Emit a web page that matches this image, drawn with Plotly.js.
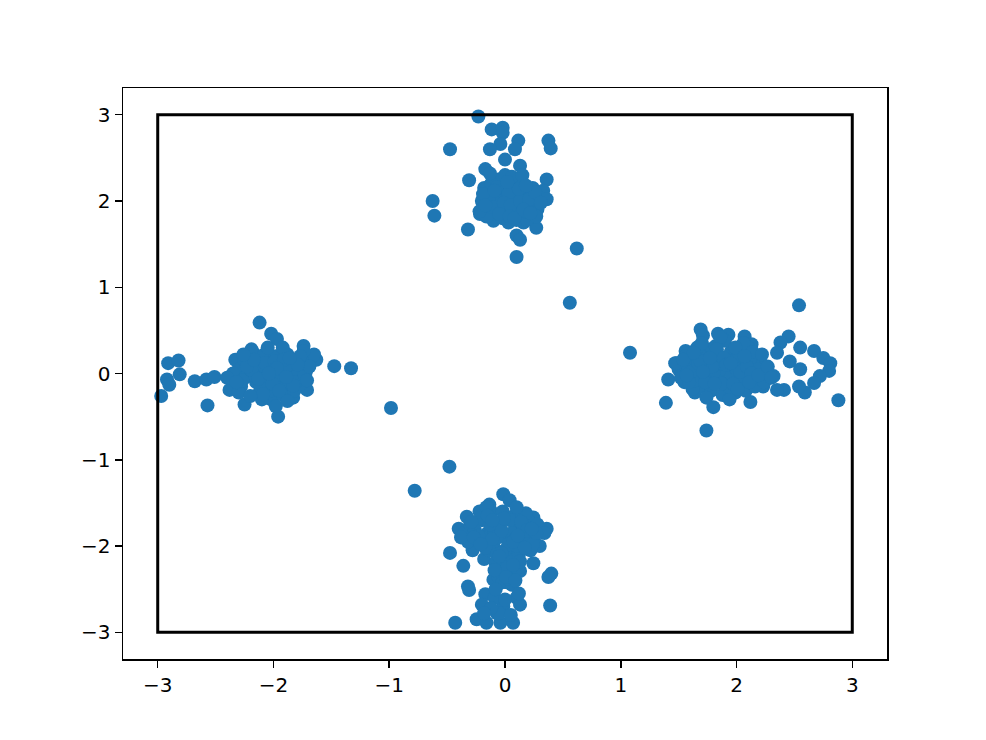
<!DOCTYPE html>
<html>
<head>
<meta charset="utf-8">
<script src="https://cdn.plot.ly/plotly-3.0.1.min.js"></script>
<style>html,body{margin:0;padding:0;background:#fff;}#chart{width:986px;height:740px;}</style>
</head>
<body>
<div id="chart"></div>
<script>
// Top cluster (around 0, 2)
const topX = [-0.23,-0.115,-0.02,-0.02,-0.04,-0.13,0.115,0.086,0.375,0.395,-0.475,0.0,0.13,-0.17,-0.31,0.36,-0.625,-0.61,-0.32,0.27,0.10,0.13,0.62,0.10,-0.216,-0.10,0.16,
  -0.18,-0.12,-0.08,-0.05,0.02,0.06,0.1,0.15,0.2,0.25,-0.15,-0.1,-0.02,0.04,0.08,0.12,0.18,0.22,0.3,-0.2,-0.06,0.0,0.05,0.1,0.14,-0.12,-0.03,0.07,0.16,0.28,
  0.33,0.36,-0.08,0.01,0.11,0.2,-0.16,-0.04,0.09,0.24,-0.22,0.0,0.13,0.06,-0.1,0.19,0.03,-0.13,0.27,0.15,
  -0.14,-0.07,0.03,0.09,0.17,0.23,0.29,-0.19,-0.11,-0.01,0.05,0.13,0.21,0.26,-0.05,0.04,0.12,0.18,-0.17,0.08,0.31,0.02,-0.09,0.16,0.22];
const topY = [2.98,2.83,2.85,2.79,2.66,2.60,2.70,2.60,2.70,2.61,2.60,2.48,2.41,2.37,2.24,2.25,2.00,1.83,1.67,1.69,1.60,1.55,1.45,1.35,1.85,1.77,1.75,
  2.15,2.05,1.95,2.1,2.0,1.9,2.05,1.95,2.1,2.0,1.9,1.85,1.8,2.2,2.15,1.85,1.82,1.9,2.08,2.0,2.25,2.3,2.12,1.78,2.22,2.2,1.95,1.98,2.05,1.9,
  2.12,2.02,2.08,2.05,1.92,1.95,1.82,2.0,2.02,2.15,1.88,1.88,2.1,2.28,2.0,1.78,1.75,2.32,1.82,2.3,
  2.0,2.16,2.08,1.86,1.88,2.05,1.98,2.08,1.93,1.98,1.95,2.0,2.02,2.1,1.85,1.82,2.14,2.18,1.95,1.8,1.98,2.22,2.12,1.9,1.86];

// Left cluster (around -2, 0)
const leftX = [-2.12,-2.02,-1.97,-2.91,-2.82,-2.81,-2.92,-2.90,-2.97,-2.68,-2.58,-2.51,-2.57,-2.38,-2.25,-1.96,-1.83,-1.71,-1.475,-1.33,-1.74,-1.63,-2.33,-2.19,
  -2.3,-2.25,-2.2,-2.15,-2.1,-2.05,-2.0,-1.95,-1.9,-1.85,-1.8,-1.75,-1.7,-2.28,-2.12,-2.02,-1.92,-1.82,-2.18,-2.08,-1.98,-1.88,-1.78,-1.68,-2.22,-2.06,
  -1.96,-1.86,-1.76,-2.14,-2.04,-1.94,-1.84,-2.35,-2.0,-1.9,-2.1,-1.98,-1.72,-2.25,-2.16,-2.03,-1.8,-1.65,-2.4,-2.3,-1.92,-2.05,-1.88,-1.74,
  -2.27,-2.19,-2.11,-2.07,-1.99,-1.93,-1.87,-1.81,-1.73,-1.69,-2.23,-2.13,-2.01,-1.91,-1.83,-1.77,-2.17,-2.09,-1.97,-1.89,-2.32,-2.26,-1.95,-2.04,-1.79,-1.71,-1.86,-2.2];
const leftY = [0.59,0.46,0.40,0.12,0.15,-0.01,-0.07,-0.13,-0.26,-0.09,-0.07,-0.04,-0.37,-0.19,-0.36,-0.50,-0.28,-0.19,0.085,0.06,0.32,0.16,0.16,0.28,
  0.05,-0.05,0.12,-0.1,0.02,0.18,-0.05,0.08,-0.15,0.05,0.15,-0.05,0.1,-0.15,-0.22,-0.3,-0.25,-0.2,0.25,0.22,0.2,0.22,0.05,0.18,-0.02,-0.12,
  0.0,-0.08,-0.12,0.08,0.06,-0.12,0.12,0.0,0.12,0.02,-0.3,-0.38,0.02,0.15,-0.03,-0.2,-0.02,0.22,-0.05,-0.22,0.3,0.3,-0.32,0.26,
  -0.08,0.04,-0.16,0.12,0.14,-0.02,0.1,-0.1,-0.02,0.08,0.08,-0.06,-0.12,0.16,-0.14,0.2,0.16,-0.24,0.06,-0.04,-0.1,0.22,-0.2,0.0,0.1,-0.08,0.18,-0.26];

// Right cluster (around 2, 0)
const rightX = [2.54,1.08,1.69,1.71,1.84,1.93,2.07,2.45,2.38,2.35,2.55,2.67,2.75,2.81,2.80,2.72,2.67,2.59,2.54,2.88,2.46,2.55,2.41,2.35,2.32,2.23,2.23,2.12,1.99,1.80,1.74,1.39,1.41,1.47,1.56,1.64,1.64,1.77,2.13,2.15,
  1.5,1.55,1.6,1.65,1.7,1.75,1.8,1.85,1.9,1.95,2.0,2.05,2.1,2.15,2.2,1.58,1.68,1.78,1.88,1.98,2.08,2.18,1.62,1.72,1.82,1.92,2.02,2.12,1.52,1.66,
  1.76,1.86,1.96,2.06,2.16,1.7,1.8,1.9,2.0,2.24,1.48,1.56,1.74,1.84,1.94,2.04,2.14,1.64,2.22,1.86,
  1.54,1.61,1.67,1.73,1.79,1.83,1.89,1.93,1.99,2.03,2.09,2.13,1.59,1.69,1.77,1.87,1.97,2.07,1.63,1.73,1.91,2.01,2.11,1.57,1.81,1.95,2.19,2.27,2.3,1.71];
const rightY = [0.79,0.24,0.51,0.44,0.46,0.45,0.43,0.43,0.36,0.24,0.30,0.26,0.18,0.12,0.03,-0.03,-0.11,-0.22,-0.15,-0.31,0.14,0.05,-0.19,-0.19,-0.03,0.03,-0.15,-0.33,-0.22,-0.39,-0.66,-0.34,-0.07,0.12,0.26,0.26,-0.22,0.28,0.34,0.20,
  0.05,-0.1,0.15,0.0,-0.15,0.1,0.2,-0.05,0.05,0.25,-0.1,0.1,0.3,-0.05,0.15,0.08,0.22,-0.2,-0.25,0.15,-0.2,0.05,-0.18,0.05,0.32,-0.12,0.22,0.18,-0.05,0.3,
  -0.02,0.12,-0.02,0.35,-0.15,0.35,0.0,0.38,0.05,-0.1,0.12,0.2,-0.28,0.22,-0.3,-0.02,0.25,-0.08,0.22,0.42,
  0.16,0.02,0.12,-0.08,0.08,0.28,0.18,-0.15,0.3,0.02,0.08,0.0,-0.1,0.14,0.18,-0.12,-0.12,0.2,0.24,-0.1,0.1,-0.18,-0.1,-0.02,-0.12,0.12,-0.02,0.08,-0.05,0.02];

// Bottom cluster (around 0, -2)
const bottomX = [-0.48,-0.78,-0.015,0.04,-0.135,-0.33,0.245,0.36,-0.40,-0.475,-0.36,0.245,0.13,0.40,0.375,-0.32,-0.31,-0.10,0.015,-0.17,0.10,0.13,0.39,-0.20,-0.43,-0.245,-0.04,0.07,-0.16,-0.07,-0.015,-0.09,
  -0.35,-0.3,-0.25,-0.2,-0.15,-0.1,-0.05,0.0,0.05,0.1,0.15,0.2,0.25,0.3,-0.28,-0.18,-0.08,0.02,0.12,0.22,-0.22,-0.12,-0.02,0.08,0.18,-0.32,-0.2,-0.06,
  0.06,0.16,0.28,-0.14,0.0,0.1,-0.26,0.04,-0.1,0.2,-0.04,0.02,-0.06,0.08,-0.38,0.34,-0.16,0.1,-0.02,0.06,-0.08,0.12,-0.05,0.05,-0.12,0.0,-0.18,
  -0.29,-0.23,-0.17,-0.11,-0.03,0.03,0.09,0.14,0.19,0.24,-0.27,-0.13,-0.07,0.07,0.17,0.27,-0.21,-0.01,0.13,0.23,-0.09,0.03,0.11,-0.15,0.07,-0.03,0.01,-0.11,0.09,-0.05];
const bottomY = [-1.08,-1.36,-1.40,-1.47,-1.52,-1.66,-1.67,-1.80,-1.80,-2.08,-2.23,-2.20,-2.29,-2.32,-2.36,-2.47,-2.51,-2.39,-2.42,-2.56,-2.60,-2.68,-2.69,-2.68,-2.89,-2.85,-2.89,-2.89,-2.89,-2.78,-2.70,-2.60,
  -1.85,-1.75,-1.95,-1.7,-1.85,-2.0,-1.75,-1.9,-2.05,-1.8,-1.95,-1.7,-1.9,-2.0,-2.05,-2.15,-2.2,-2.15,-2.1,-2.05,-1.6,-1.6,-1.6,-1.65,-1.62,-1.95,-1.9,-1.9,
  -1.85,-1.78,-1.75,-2.05,-2.05,-2.0,-1.82,-1.7,-1.78,-1.88,-2.3,-2.25,-2.35,-2.3,-1.9,-1.85,-1.55,-1.55,-2.42,-2.45,-2.5,-2.55,-2.78,-2.8,-2.72,-2.62,-2.78,
  -1.72,-1.88,-2.02,-1.92,-1.82,-1.98,-1.92,-1.72,-1.82,-1.98,-1.9,-1.75,-2.1,-1.95,-2.02,-1.85,-1.98,-1.68,-2.18,-1.8,-2.28,-2.38,-1.88,-1.65,-2.22,-2.08,-2.36,-1.7,-2.4,-2.12];

// Stray points between clusters
const strayX = [0.56,-0.985];
const strayY = [0.82,-0.40];

const xs = [].concat(topX, leftX, rightX, bottomX, strayX);
const ys = [].concat(topY, leftY, rightY, bottomY, strayY);

const tickVals = [-3,-2,-1,0,1,2,3];
const tickText = ['\u22123','\u22122','\u22121','0','1','2','3'];
const boxMin = -3, boxMax = 3;

const axisCommon = {
  showgrid: false, zeroline: false, showline: true, mirror: true,
  linecolor: '#000', linewidth: 1.5,
  ticks: 'outside', ticklen: 7, tickwidth: 1.5, tickcolor: '#000',
  tickvals: tickVals, ticktext: tickText,
  tickfont: {family: 'DejaVu Sans', size: 20, color: '#000'}
};

Plotly.newPlot('chart', [{
  x: xs, y: ys, type: 'scatter', mode: 'markers',
  marker: {color: '#1f77b4', size: 14, line: {width: 0}},
  hoverinfo: 'x+y'
}], {
  width: 986, height: 740,
  margin: {l: 123, r: 99, t: 88, b: 81},
  paper_bgcolor: '#fff', plot_bgcolor: '#fff',
  showlegend: false,
  xaxis: Object.assign({range: [-3.30, 3.30]}, axisCommon),
  yaxis: Object.assign({range: [-3.31, 3.31]}, axisCommon),
  shapes: [{type: 'rect', xref: 'x', yref: 'y', x0: boxMin, x1: boxMax, y0: boxMin, y1: boxMax,
    line: {color: '#000', width: 3}, fillcolor: 'rgba(0,0,0,0)', layer: 'above'}]
}, {displayModeBar: false, staticPlot: true});
</script>
</body>
</html>
